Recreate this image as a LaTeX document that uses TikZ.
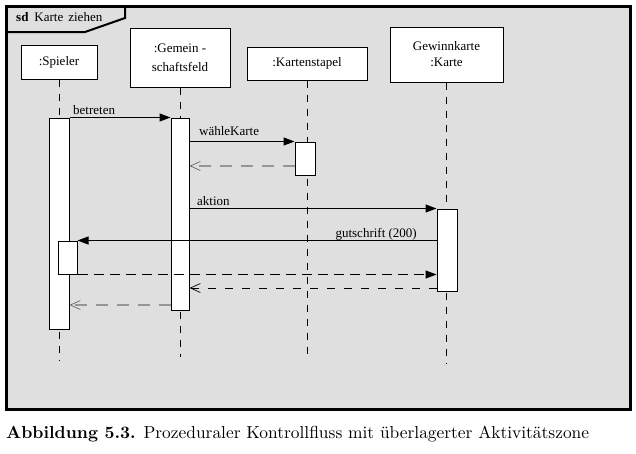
\documentclass[tikz,border=0pt]{standalone}
\usepackage{fontspec}
\newfontfamily\tnr{Liberation Serif}
\usetikzlibrary{arrows.meta}
\definecolor{bg}{RGB}{223,223,223}
\definecolor{retgray}{RGB}{150,150,150}
\begin{document}
\begin{tikzpicture}[x=1pt,y=-1pt,
  dfont/.style={font=\tnr\fontsize{13}{16}\selectfont},
  head/.style={draw,fill=white,line width=1pt,dfont,align=center,inner sep=0pt},
  act/.style={draw,fill=white,line width=1pt,inner sep=0pt},
  life/.style={line width=1pt,dash pattern=on 7pt off 7pt},
  msg/.style={line width=1pt,-{Triangle[length=11pt,width=8pt]}},
  rep/.style={line width=1pt,dash pattern=on 10pt off 6pt,-{Triangle[length=11pt,width=8pt]}},
  ret/.style={line width=1pt,dash pattern=on 8pt off 9pt,-{Straight Barb[length=10pt,width=9pt,line width=0.7pt]}},
  grayret/.style={line width=1.3pt,retgray,dash pattern=on 12pt off 9pt,-{Straight Barb[length=10pt,width=9pt,line width=0.7pt,color=black!60]}},
  lbl/.style={dfont,inner sep=0pt,anchor=base west}
]
\fill[white] (0,0) rectangle (636,453);
\useasboundingbox (0,0) rectangle (636,453);
% frame
\draw[line width=3pt,fill=bg] (6,6) rectangle (630,409);
\draw[line width=2pt] (6,32) -- (85,32) -- (125,18) -- (125,6);
\node[lbl] (sdlbl) at (16,21) {\textbf{sd}\hspace{6pt}Karte\hspace{5pt}ziehen};
% heads
\node[head,minimum width=76pt,minimum height=34pt] (sp) at (59,62) {:Spieler};
\node[head,minimum width=100pt,minimum height=59pt,font=\tnr\fontsize{13}{19}\selectfont] (gf) at (180,57.5) {:Gemein -\\schaftsfeld};
\node[head,minimum width=120pt,minimum height=33pt] (ks) at (307,63.5) {:Kartenstapel};
\node[head,minimum width=113pt,minimum height=55pt] (gk) at (446.5,54.5) {Gewinnkarte\\:Karte};
% lifeline ends
\coordinate (spE) at (59,360);
\coordinate (gfE) at (180,357);
\coordinate (ksE) at (307,360);
\coordinate (gkE) at (446.5,363);
\draw[life] (sp.south) -- (spE);
\draw[life] (gf.south) -- (gfE);
\draw[life] (ks.south) -- (ksE);
\draw[life] (gk.south) -- (gkE);
% activations
\node[act,minimum width=20pt,minimum height=211pt] (spA) at (59,223.5) {};
\node[act,minimum width=18pt,minimum height=192pt] (gfA) at (180,214) {};
\node[act,minimum width=20pt,minimum height=33pt] (ksA) at (305,158.5) {};
\node[act,minimum width=20pt,minimum height=82pt] (gkA) at (447,250) {};
\node[act,minimum width=19pt,minimum height=33pt] (spB) at (67.5,257.5) {};
% levels
\coordinate (y2) at (0,166);
\coordinate (y7) at (0,288);
\coordinate (y8) at (0,305);
% messages
\draw[msg] (spA.north east) -- (gfA.north west);
\node[lbl] (l1) at (73,114) {betreten};
\draw[msg] (gfA.east |- ksA.north) -- (ksA.north west);
\node[lbl] (l2) at (199,135) {wähleKarte};
\draw[grayret] (ksA.west |- y2) -- (gfA.east |- y2);
\draw[msg] (gfA.east |- gkA.north) -- (gkA.north west);
\node[lbl] (l3) at (197,205) {aktion};
\draw[msg] (gkA.west |- spB.north) -- (spB.north east);
\node[dfont,inner sep=0pt,anchor=base east] (l4) at (417,237) {gutschrift (200)};
\draw[rep] (spB.south east) -- (gkA.west |- spB.south);
\draw[ret] (gkA.west |- y7) -- (gfA.east |- y7);
\draw[grayret] (gfA.west |- y8) -- (spA.east |- y8);
% caption
\node[inner sep=0pt,anchor=base west] (cap) at (6,438) {\scalebox{1.74}{\textbf{Abbildung 5.3.} Prozeduraler Kontrollfluss mit überlagerter Aktivitätszone}};
\end{tikzpicture}
\end{document}
